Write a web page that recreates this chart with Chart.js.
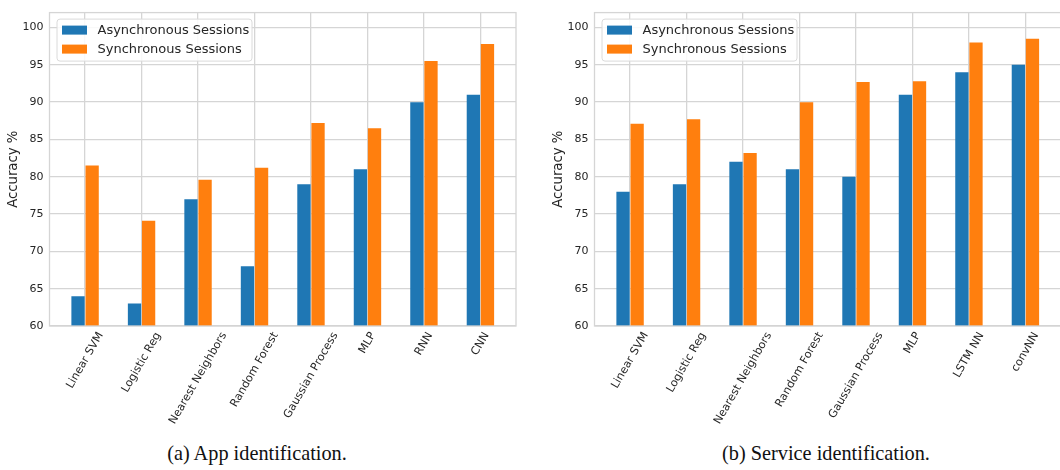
<!DOCTYPE html>
<html>
<head>
<meta charset="utf-8">
<script src="https://cdn.jsdelivr.net/npm/chart.js@4.4.1/dist/chart.umd.min.js"></script>
<style>
  html, body { margin: 0; padding: 0; background: #fff; }
  #figure { position: relative; width: 1060px; height: 470px; overflow: hidden; background: #fff; }
  .panel { position: absolute; top: 0; width: 545px; height: 430px; }
  .caption {
    position: absolute; top: 441px; height: 24px; line-height: 24px;
    font-family: "Liberation Serif", "DejaVu Serif", serif; font-size: 20.3px; color: #111;
    white-space: nowrap; transform: translateX(-50%);
  }
</style>
</head>
<body>
<div id="figure">
  <div class="panel" style="left:0px"><canvas id="appChart" width="545" height="430"></canvas></div>
  <div class="panel" style="left:545px"><canvas id="serviceChart" width="545" height="430"></canvas></div>
  <div class="caption" style="left:257px">(a) App identification.</div>
  <div class="caption" style="left:826px">(b) Service identification.</div>
</div>
<script>
// Classifier names on each x axis
const appLabels = ['Linear SVM', 'Logistic Reg', 'Nearest Neighbors', 'Random Forest',
                   'Gaussian Process', 'MLP', 'RNN', 'CNN'];
const serviceLabels = ['Linear SVM', 'Logistic Reg', 'Nearest Neighbors', 'Random Forest',
                       'Gaussian Process', 'MLP', 'LSTM NN', 'convNN'];

// Accuracy (%) per classifier
const appAsync = [64, 63, 77, 68, 79, 81, 90, 91];
const appSync = [81.5, 74.1, 79.6, 81.2, 87.2, 86.5, 95.5, 97.8];
const serviceAsync = [78, 79, 82, 81, 80, 91, 94, 95];
const serviceSync = [87.1, 87.7, 83.2, 90, 92.7, 92.8, 98.0, 98.5];

const seriesNames = ['Asynchronous Sessions', 'Synchronous Sessions'];
const yTickValues = [60, 65, 70, 75, 80, 85, 90, 95, 100];
const yAxisTitle = 'Accuracy %';

const BLUE = '#1f77b4';
const ORANGE = '#ff7f0e';
const GRID = 'rgb(213,213,213)';
const TEXT = '#262626';
const FONT = '"DejaVu Sans", Verdana, sans-serif';

// Category names drawn centred under each tick, rotated 60 degrees
const rotatedLabels = {
  id: 'rotatedLabels',
  afterDraw(chart, args, opts) {
    const ctx = chart.ctx, xs = chart.scales.x, area = chart.chartArea;
    const size = 11.2, ang = 60 * Math.PI / 180, h = size * 1.17;
    ctx.save();
    ctx.font = size + 'px ' + FONT;
    ctx.fillStyle = TEXT;
    opts.labels.forEach((t, i) => {
      const L = ctx.measureText(t).width;
      const H = L * Math.sin(ang) + h * Math.cos(ang);
      const cx = xs.getPixelForValue(i);
      const cy = area.bottom + 4 + H / 2;
      ctx.save();
      ctx.translate(cx, cy);
      ctx.rotate(-ang);
      ctx.textAlign = 'center';
      ctx.textBaseline = 'middle';
      ctx.fillText(t, 0, 0);
      ctx.restore();
    });
    ctx.restore();
  }
};

// Light frame around the plotting area
const frame = {
  id: 'frame',
  afterDatasetsDraw(chart) {
    const ctx = chart.ctx, a = chart.chartArea;
    ctx.save();
    ctx.strokeStyle = GRID;
    ctx.lineWidth = 1.3;
    ctx.strokeRect(a.left, a.top, a.right - a.left, a.bottom - a.top);
    ctx.restore();
  }
};

// Boxed legend in the upper-left corner of the plot
const insetLegend = {
  id: 'insetLegend',
  afterDraw(chart) {
    const ctx = chart.ctx, a = chart.chartArea;
    const x0 = a.left + 7.5, y0 = a.top + 6.5, w = 195, hBox = 42;
    ctx.save();
    ctx.beginPath();
    if (ctx.roundRect) ctx.roundRect(x0, y0, w, hBox, 3); else ctx.rect(x0, y0, w, hBox);
    ctx.fillStyle = 'rgba(255,255,255,0.85)';
    ctx.fill();
    ctx.strokeStyle = 'rgb(218,218,218)';
    ctx.lineWidth = 1;
    ctx.stroke();
    ctx.font = '13px ' + FONT;
    ctx.textBaseline = 'middle';
    chart.data.datasets.forEach((ds, i) => {
      const cy = y0 + 11 + i * 19;
      ctx.fillStyle = ds.backgroundColor;
      ctx.fillRect(x0 + 5, cy - 4.5, 25, 9);
      ctx.fillStyle = TEXT;
      ctx.fillText(ds.label, x0 + 40.5, cy + 0.5);
    });
    ctx.restore();
  }
};

function makeChart(id, labels, asyncVals, syncVals) {
  const toPoints = vals => vals.map((v, i) => ({ x: i, y: v }));
  return new Chart(document.getElementById(id), {
    type: 'bar',
    data: {
      datasets: [
        { label: seriesNames[0], data: toPoints(asyncVals), backgroundColor: BLUE,
          categoryPercentage: 0.5, barPercentage: 0.94, borderWidth: 0 },
        { label: seriesNames[1], data: toPoints(syncVals), backgroundColor: ORANGE,
          categoryPercentage: 0.5, barPercentage: 0.94, borderWidth: 0 }
      ]
    },
    options: {
      responsive: false,
      animation: false,
      layout: { padding: { top: 7, right: 29, left: 0, bottom: 0 } },
      plugins: {
        legend: { display: false },
        tooltip: { enabled: false },
        rotatedLabels: { labels: labels }
      },
      scales: {
        x: {
          type: 'linear',
          min: -0.63,
          max: labels.length - 1 + 0.63,
          offset: false,
          afterBuildTicks: s => { s.ticks = labels.map((_, i) => ({ value: i })); },
          afterFit: s => { s.height = 104; },
          ticks: { display: false },
          grid: { color: GRID, lineWidth: 1.3, drawTicks: false, offset: false },
          border: { display: false }
        },
        y: {
          min: 60,
          max: 102,
          afterBuildTicks: s => { s.ticks = yTickValues.map(v => ({ value: v })); },
          afterFit: s => { s.width = 49.5; },
          ticks: { padding: 6, color: TEXT, font: { family: FONT, size: 11 } },
          grid: { color: GRID, lineWidth: 1.3, drawTicks: false },
          border: { display: false },
          title: { display: true, text: yAxisTitle, color: TEXT,
                   font: { family: FONT, size: 13.2 }, padding: { top: 5.5, bottom: 0 } }
        }
      }
    },
    plugins: [frame, insetLegend, rotatedLabels]
  });
}

makeChart('appChart', appLabels, appAsync, appSync);
makeChart('serviceChart', serviceLabels, serviceAsync, serviceSync);
</script>
</body>
</html>
